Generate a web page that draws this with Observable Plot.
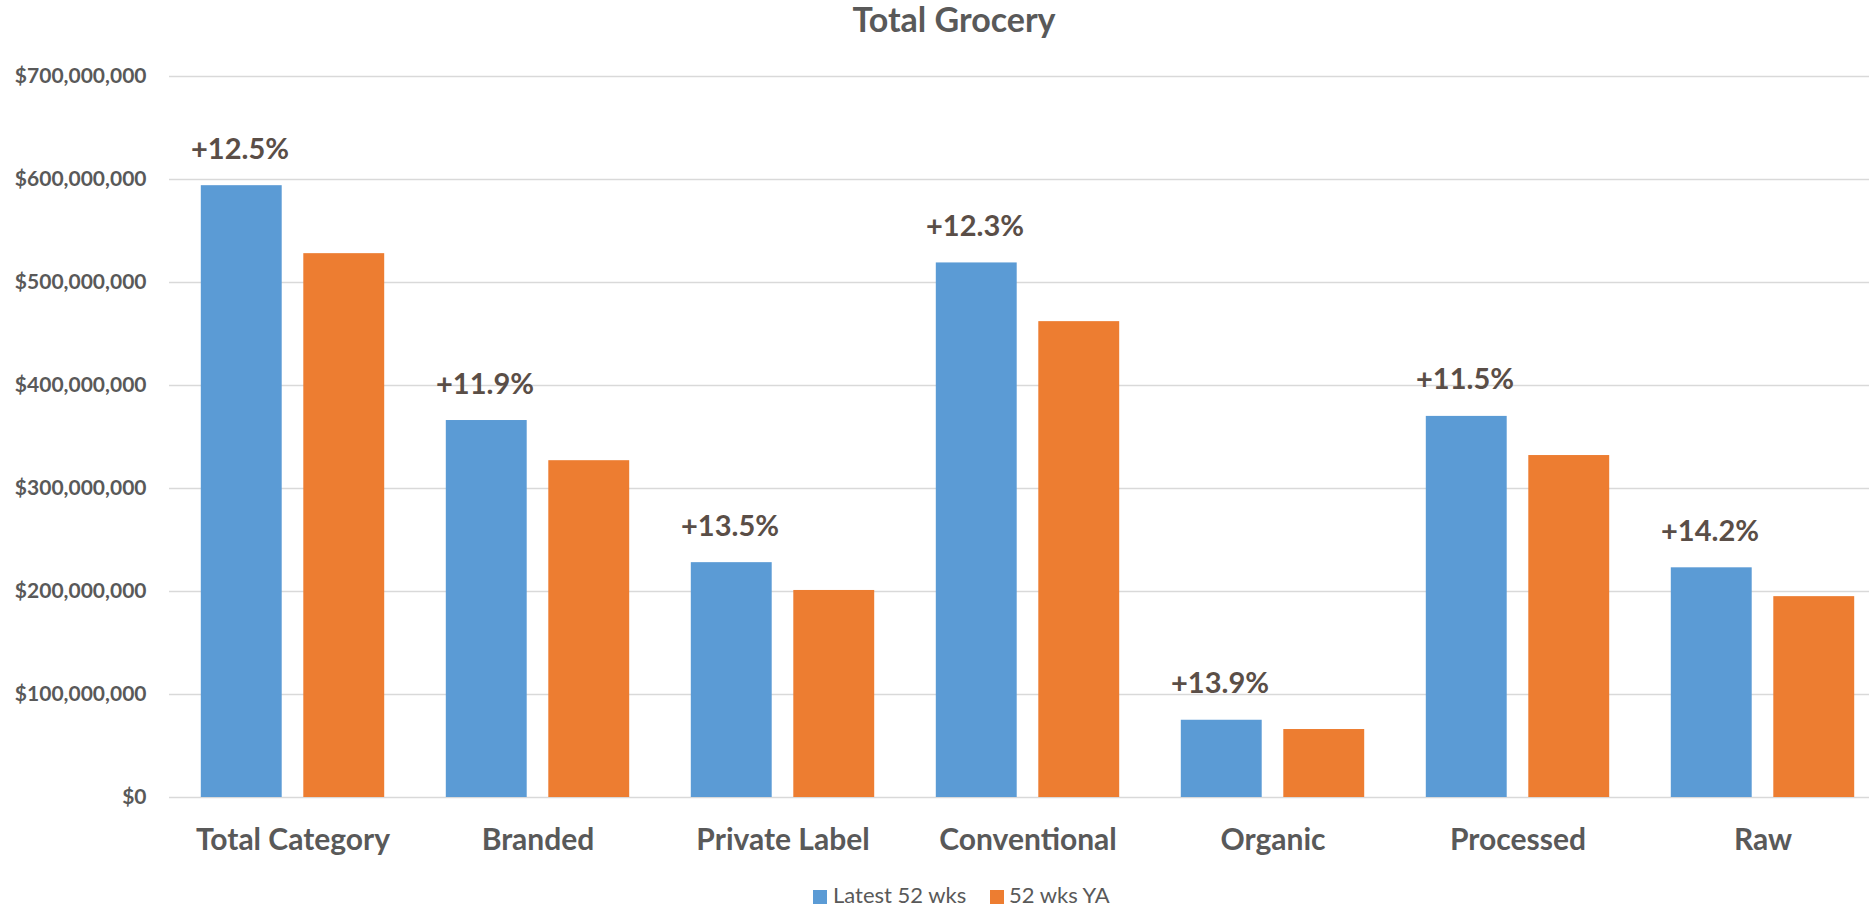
<!DOCTYPE html>
<html>
<head>
<meta charset="utf-8">
<script src="https://cdn.jsdelivr.net/npm/d3@7"></script>
<script src="https://cdn.jsdelivr.net/npm/@observablehq/plot@0.6"></script>
<style>
  html, body { margin: 0; padding: 0; background: #fff; overflow: hidden; width: 1869px; height: 906px; }
  #chart { position: relative; width: 1869px; height: 906px; font-family: Lato, "Open Sans", sans-serif; }
  #chart svg { position: absolute; left: 0; top: 0; overflow: hidden; }
  #title { position: absolute; left: 0; top: 2px; width: 1908px; text-align: center;
           font: 700 34px/34px Lato, sans-serif; color: #595959; }
  .swatch { position: absolute; width: 14px; height: 14px; top: 890px; }
  .legend-text { position: absolute; top: 884px; font: 400 22px/22px Lato, sans-serif; color: #595959; white-space: nowrap; }
</style>
</head>
<body>
<div id="chart">
  <div id="title">Total Grocery</div>
</div>
<script>
// Sales by segment, latest 52 weeks vs. the same 52 weeks a year ago
const categories = ["Total Category", "Branded", "Private Label", "Conventional", "Organic", "Processed", "Raw"];
const seriesNames = ["Latest 52 wks", "52 wks YA"];
const latest52 = [594e6, 366e6, 228e6, 519e6, 75e6, 370e6, 223e6];
const yearAgo52 = [528e6, 327e6, 201e6, 462e6, 66e6, 332e6, 195e6];
const growthLabels = ["+12.5%", "+11.9%", "+13.5%", "+12.3%", "+13.9%", "+11.5%", "+14.2%"];
const yTicks = [0, 100e6, 200e6, 300e6, 400e6, 500e6, 600e6, 700e6];
const seriesColors = ["#5B9BD5", "#ED7D31"];

const rowsLatest = categories.map((c, i) => ({category: c, series: seriesNames[0], value: latest52[i], growth: growthLabels[i]}));
const rowsYA = categories.map((c, i) => ({category: c, series: seriesNames[1], value: yearAgo52[i]}));

const textGray = "#595959";
const money = d => "$" + d3.format(",")(d);

const chart = Plot.plot({
  width: 1869,
  height: 906,
  marginTop: 76,
  marginBottom: 109,
  marginLeft: 169,
  marginRight: -17,
  style: {fontFamily: "Lato, 'Open Sans', sans-serif", background: "white", overflow: "hidden"},
  x: {domain: categories, padding: 0},
  y: {domain: [0, 700e6]},
  marks: [
    Plot.gridY(yTicks, {stroke: "#d9d9d9", strokeOpacity: 1, strokeWidth: 1.5}),
    Plot.axisY(yTicks, {
      tickSize: 0, tickPadding: 23, tickFormat: money, label: null,
      fontSize: 21, fontWeight: 700, color: textGray
    }),
    Plot.axisX({
      tickSize: 0, tickPadding: 31, label: null,
      fontSize: 30, fontWeight: 700, color: textGray
    }),
    // two bars per category band: current period on the left, year-ago on the right
    Plot.barY(rowsLatest, {x: "category", y: "value", fill: seriesColors[0], insetLeft: 30.8, insetRight: 133.3}),
    Plot.barY(rowsYA, {x: "category", y: "value", fill: seriesColors[1], insetLeft: 133.3, insetRight: 30.8}),
    // growth labels over the current-period bar
    Plot.text(rowsLatest, {
      x: "category", y: "value", text: "growth",
      dx: -53, dy: -27, lineAnchor: "bottom",
      fontSize: 29, fontWeight: 700, fill: "#5a4e47"
    })
  ]
});

const root = document.getElementById("chart");
root.insertBefore(chart, root.firstChild);

// legend below the plot
const legendLayout = [
  {swatchX: 813, textX: 833},
  {swatchX: 990, textX: 1009}
];
seriesNames.forEach((name, i) => {
  const sw = document.createElement("div");
  sw.className = "swatch";
  sw.style.left = legendLayout[i].swatchX + "px";
  sw.style.background = seriesColors[i];
  root.appendChild(sw);
  const tx = document.createElement("div");
  tx.className = "legend-text";
  tx.style.left = legendLayout[i].textX + "px";
  tx.textContent = name;
  root.appendChild(tx);
});
</script>
</body>
</html>
